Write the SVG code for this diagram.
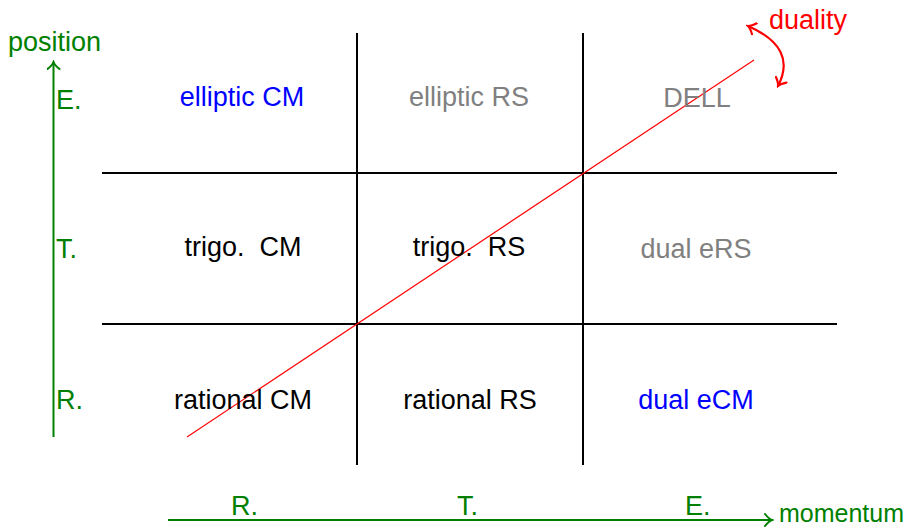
<svg xmlns="http://www.w3.org/2000/svg" width="917" height="530" viewBox="0 0 917 530">
<defs>
<style>
text{font-family:"Liberation Sans",Arial,sans-serif;font-size:27px}
.c{text-anchor:middle}
.g{fill:#008000}
.b{fill:#0000ff}
.gr{fill:#808080}
.k{fill:#000}
.r{fill:#ff0000}
.grid{stroke:#000;stroke-width:2;fill:none}
</style>
<marker id="ag" viewBox="-10 -7 12 14" markerWidth="12" markerHeight="14" refX="0" refY="0" orient="auto" markerUnits="userSpaceOnUse">
<path d="M-7,-6 Q-3,-1 0,0 Q-3,1 -7,6" fill="none" stroke="#008000" stroke-width="2" stroke-linecap="round"/>
</marker>
<marker id="ar" viewBox="-10 -7 12 14" markerWidth="12" markerHeight="14" refX="0" refY="0" orient="auto-start-reverse" markerUnits="userSpaceOnUse">
<path d="M-7,-6 Q-3,-1 0,0 Q-3,1 -7,6" fill="none" stroke="#ff0000" stroke-width="2.2" stroke-linecap="round"/>
</marker>
</defs>
<rect width="917" height="530" fill="#fff"/>
<g id="connectors">
<line class="grid" x1="357" y1="33" x2="357" y2="465"/>
<line class="grid" x1="583" y1="33" x2="583" y2="465"/>
<line class="grid" x1="102" y1="173" x2="837" y2="173"/>
<line class="grid" x1="102" y1="324" x2="837" y2="324"/>
<line x1="187" y1="437" x2="754" y2="60" stroke="#ff0000" stroke-width="1.2"/>
<line x1="53.5" y1="437" x2="53.5" y2="62" stroke="#008000" stroke-width="2" marker-end="url(#ag)"/>
<line x1="168" y1="520" x2="772" y2="520" stroke="#008000" stroke-width="2" marker-end="url(#ag)"/>
<path d="M748,26 Q798,48 778,86" fill="none" stroke="#ff0000" stroke-width="2.2" marker-start="url(#ar)" marker-end="url(#ar)"/>
</g>
<g id="axis-position"><text class="g" x="8" y="51">position</text></g>
<g id="axis-momentum"><text class="g" x="779" y="522" style="font-size:25px">momentum</text></g>
<g id="duality"><text class="r" x="769" y="29">duality</text></g>
<g id="pos-labels">
<text class="g" x="56" y="109">E.</text>
<text class="g" x="56" y="258">T.</text>
<text class="g" x="56" y="409">R.</text>
</g>
<g id="mom-labels">
<text class="g" x="231" y="515">R.</text>
<text class="g" x="457" y="515">T.</text>
<text class="g" x="685" y="515">E.</text>
</g>
<g id="elliptic-CM"><text class="c b" x="242" y="106">elliptic CM</text></g>
<g id="elliptic-RS"><text class="c gr" x="469" y="106">elliptic RS</text></g>
<g id="DELL"><text class="c gr" x="697" y="107">DELL</text></g>
<g id="trigo-CM"><text class="c k" x="243" y="256" xml:space="preserve">trigo.  CM</text></g>
<g id="trigo-RS"><text class="c k" x="469" y="256" xml:space="preserve">trigo.  RS</text></g>
<g id="dual-eRS"><text class="c gr" x="696" y="258">dual eRS</text></g>
<g id="rational-CM"><text class="c k" x="243" y="409">rational CM</text></g>
<g id="rational-RS"><text class="c k" x="470" y="409">rational RS</text></g>
<g id="dual-eCM"><text class="c b" x="696" y="409">dual eCM</text></g>
</svg>
